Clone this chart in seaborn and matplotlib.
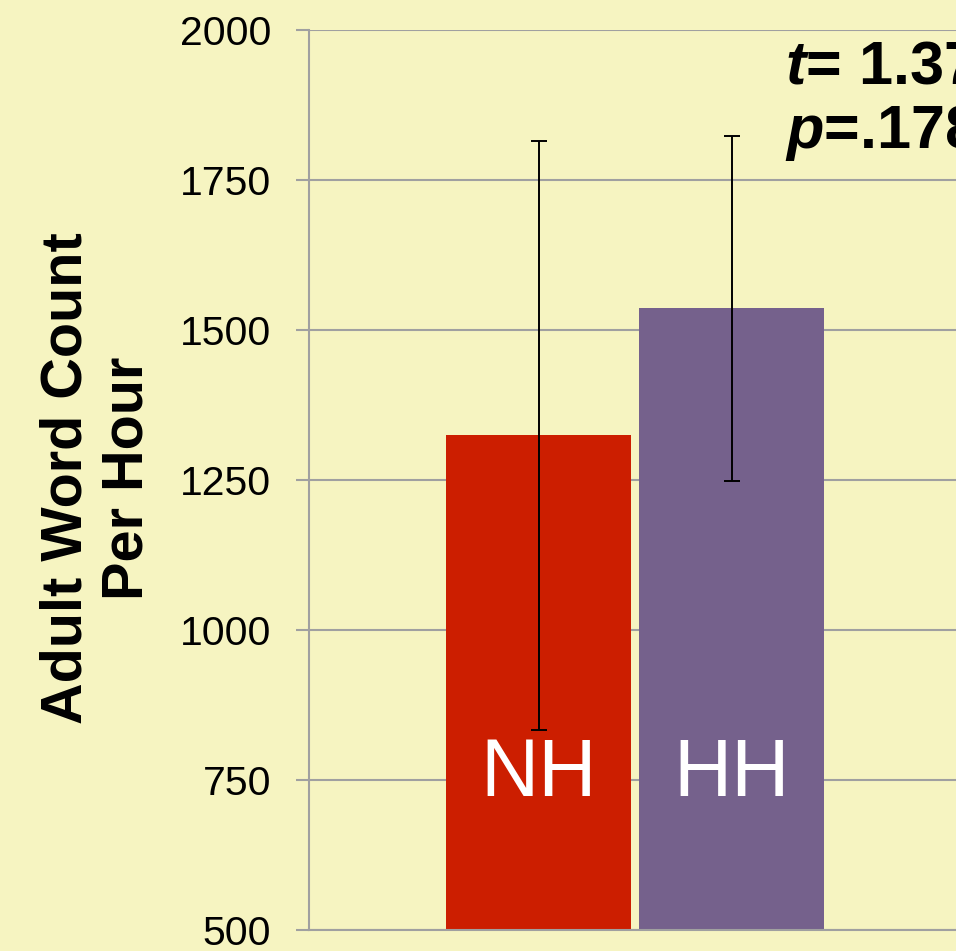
import numpy as np
import pandas as pd
import seaborn as sns
import matplotlib.pyplot as plt

groups = ["NH", "HH"]
means = [1325, 1537]
err_low = [833, 1248]
err_high = [1815, 1823]
yticks = [500, 750, 1000, 1250, 1500, 1750, 2000]
colors = ["#CC1E00", "#75618C"]
bg = "#F6F4C1"

sns.set_style("white")
plt.rcParams['font.family'] = ['Liberation Sans', 'DejaVu Sans']
plt.rcParams['text.color'] = 'black'
plt.rcParams['ytick.color'] = 'black'
plt.rcParams['mathtext.fontset'] = 'custom'
plt.rcParams['mathtext.it'] = 'Liberation Sans:italic:bold'

df = pd.DataFrame({"group": groups, "mean": means})

fig = plt.figure(figsize=(9.56, 9.51), dpi=100)
fig.patch.set_facecolor(bg)
ax = fig.add_axes([309 / 956, 21 / 951, 1 - 309 / 956, 900 / 951])
ax.set_facecolor(bg)

sns.barplot(data=df, x="group", y="mean", hue="group", palette=colors,
            saturation=1, width=0.958, errorbar=None, legend=False, ax=ax,
            linewidth=0, edgecolor="none", zorder=2)

yerr = [np.array(means) - np.array(err_low), np.array(err_high) - np.array(means)]
ax.errorbar(range(len(groups)), means, yerr=yerr, fmt="none", ecolor="black",
            elinewidth=1.4, capsize=5.8, capthick=1.4, zorder=3)

for i, g in enumerate(groups):
    ax.text(i, 759, g, color="white", fontsize=58, ha="center", va="center", zorder=4)

ax.set_ylim(500, 2000)
ax.set_xlim(-1.19, 2.163)
ax.set_yticks(yticks)
ax.set_xticks([])
ax.set_xlabel("")
ax.set_ylabel("")
ax.yaxis.grid(True, color="#A0A0A0", linewidth=1.5, zorder=0)
ax.set_axisbelow(True)
ax.tick_params(axis="y", labelsize=29.5, length=9.4, width=1.5, color="#A0A0A0",
               labelcolor="black", pad=18, left=True)
for s in ["top", "right"]:
    ax.spines[s].set_visible(False)
for s in ["left", "bottom"]:
    ax.spines[s].set_color("#A0A0A0")
    ax.spines[s].set_linewidth(1.5)

fig.text(97 / 956, 1 - 478 / 951, "Adult Word Count\nPer Hour", rotation=90,
         fontsize=41.5, fontweight="bold", color="black", ha="center", va="center",
         linespacing=1.15)

fig.text(785 / 956, 1 - 83 / 951, r"$t$= 1.37", fontsize=44, fontweight="bold",
         color="black", ha="left", va="baseline")
fig.text(785 / 956, 1 - 148 / 951, r"$p$=.178", fontsize=44, fontweight="bold",
         color="black", ha="left", va="baseline")

fig.savefig("out.png", dpi=100, facecolor=bg)
